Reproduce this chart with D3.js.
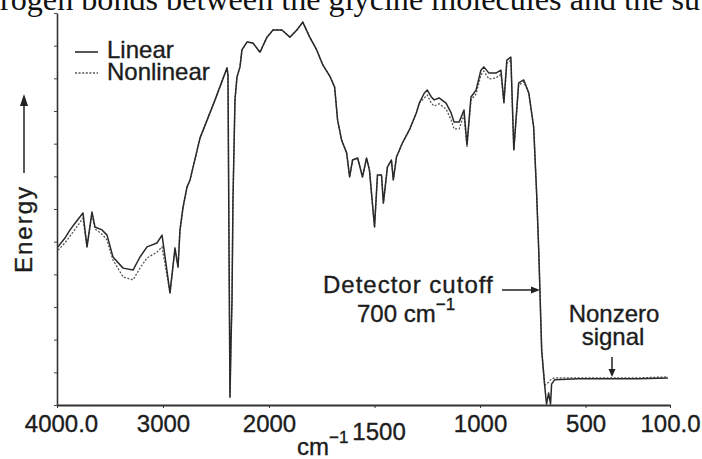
<!DOCTYPE html>
<html>
<head>
<meta charset="utf-8">
<script src="https://cdn.jsdelivr.net/npm/d3@7"></script>
<style>
body { margin: 0; background: #fff; }
svg { display: block; }
text { font-family: "Liberation Sans", Arial, sans-serif; fill: #1c1c1c; stroke: #1c1c1c; stroke-width: 0.35px; }
</style>
</head>
<body>
<div id="chart"></div>
<script>
// wavenumbers (cm-1) shared by both series
var waveNumbers = [3991, 3925, 3877, 3821, 3755, 3717, 3670, 3642, 3575, 3528, 3472, 3377, 3283, 3217, 3151, 3057, 3009,
	2934, 2887, 2858, 2840, 2811, 2774, 2745, 2651, 2509, 2396, 2387, 2377, 2368, 2358, 2349, 2340, 2321, 2302, 2274,
	2255, 2208, 2151, 2085, 2019, 1981, 1939, 1901, 1868, 1840, 1807, 1774, 1745, 1712, 1689, 1675, 1656, 1632, 1618,
	1604, 1580, 1557, 1538, 1524, 1500, 1486, 1467, 1458, 1439, 1420, 1411, 1396, 1368, 1335, 1302, 1288, 1264, 1250,
	1231, 1217, 1194, 1161, 1137, 1123, 1099, 1076, 1062, 1043, 1019, 996, 982, 958, 925, 901, 887, 873, 854, 840,
	817, 793, 769, 746, 732, 722, 708, 694, 685, 675, 666, 661, 647, 534, 383, 251, 110];

var linearEnergy = [48.4, 51.1, 53.6, 56.0, 58.8, 48.4, 59.1, 54.5, 53.6, 52.0, 45.3, 41.9, 41.3, 45.3, 48.4, 49.6, 52.0,
	34.3, 48.1, 42.2, 53.6, 60.6, 66.7, 68.9, 81.7, 93.4, 103.2, 101.0, 47.4, 2.4, 19.9, 32.1, 62.7, 93.4, 100.4, 103.5,
	108.7, 111.1, 110.8, 108.0, 112.6, 114.8, 114.8, 112.6, 114.8, 117.2, 112.6, 108.7, 104.1, 100.7, 97.3, 87.2, 81.1, 77.1, 69.8,
	75.0, 75.6, 69.8, 75.6, 71.9, 54.5, 70.4, 70.4, 61.8, 72.8, 75.0, 68.9, 75.9, 80.2, 84.2, 89.4, 92.4, 95.5, 96.4,
	94.3, 93.4, 94.0, 92.4, 89.4, 86.6, 86.6, 90.3, 79.6, 94.3, 96.4, 102.5, 103.5, 101.6, 101.6, 102.5, 92.7, 105.6, 106.5, 78.1,
	98.6, 99.5, 95.5, 85.1, 64.9, 47.4, 16.8, 6.1, 0.3, 3.7, 0.3, 6.4, 7.7, 8.0, 8.0, 8.0, 8.3];

var nonlinearEnergy = [47.4, 49.6, 51.7, 54.2, 57.2, 48.4, 58.5, 53.9, 52.3, 50.5, 44.4, 39.2, 38.3, 41.9, 45.0, 46.8, 48.4,
	34.3, 47.4, 42.2, 53.0, 60.3, 66.4, 68.9, 81.7, 93.4, 103.2, 101.0, 47.4, 2.4, 19.9, 32.1, 62.7, 93.4, 100.4, 103.5,
	108.7, 111.1, 110.8, 108.0, 112.6, 114.8, 114.8, 112.6, 114.8, 117.2, 112.6, 108.7, 104.1, 100.7, 97.3, 87.2, 81.1, 77.1, 69.8,
	75.0, 75.6, 69.8, 75.6, 71.9, 54.5, 70.4, 70.4, 61.8, 72.8, 75.0, 68.9, 75.9, 80.2, 84.2, 89.4, 92.4, 94.0, 94.9,
	92.4, 91.5, 92.2, 90.6, 87.3, 84.5, 84.5, 88.8, 79.0, 93.4, 95.2, 101.0, 102.2, 99.8, 100.1, 101.3, 92.2, 104.6, 105.6, 78.1,
	97.9, 99.0, 95.5, 85.1, 64.9, 47.4, 16.8, 6.1, 6.4, 7.0, 7.7, 8.0, 8.3, 8.3, 8.3, 8.3, 8.6];

var xTicks = [4000, 3000, 2000, 1500, 1000, 500, 100];
var xTickLabels = ["4000.0", "3000", "2000", "1500", "1000", "500", "100.0"];
var yTicks = d3.range(0, 121, 10);

var svgWidth = 702;
var svgHeight = 459;

var svg = d3.select("#chart").append("svg").attr("width", svgWidth).attr("height", svgHeight);

// cut-off line of the page text above the figure
svg.append("text").attr("x", 0).attr("y", 10).attr("textLength", 700).attr("lengthAdjust", "spacingAndGlyphs")
	.style("font-family", "'Liberation Serif', 'Times New Roman', serif").style("font-size", "31px")
	.style("fill", "#111").style("stroke", "none")
	.text("rogen bonds between the glycine molecules and the su");

// x axis is split: 4000-2000 and 2000-100 use different spacing
var xScale = d3.scaleLinear().domain([4000, 2000, 100]).range([57, 269, 670]);
var yScale = d3.scaleLinear().domain([0, 120]).range([405, 13]);

var xAxis = d3.axisBottom(xScale).tickValues(xTicks).tickFormat(function(d, i) { return xTickLabels[i]; })
	.tickSize(3).tickSizeOuter(0);
var yAxis = d3.axisLeft(yScale).tickValues(yTicks).tickFormat("").tickSize(3).tickSizeOuter(0);

var gx = svg.append("g").attr("transform", "translate(0,405)").call(xAxis);
gx.select(".domain").attr("stroke", "#333").attr("stroke-width", 2);
gx.selectAll(".tick line").attr("stroke", "#333");
gx.selectAll(".tick text").attr("y", function(d) { return d === 1500 ? 35 : 27; }).attr("dy", 0)
	.attr("dx", function(d) { return d === 4000 ? 4 : (d === 1500 ? 4 : 0); })
	.style("font-size", "24px").style("font-family", "'Liberation Sans', Arial, sans-serif")
	.style("fill", "#1c1c1c").style("stroke", "#1c1c1c");

var gy = svg.append("g").attr("transform", "translate(57,0)").call(yAxis);
gy.select(".domain").attr("stroke", "#333").attr("stroke-width", 1.6);
gy.selectAll(".tick line").attr("stroke", "#444");

var line = d3.line()
	.x(function(d, i) { return xScale(waveNumbers[i]); })
	.y(function(d) { return yScale(d); });

svg.append("path").datum(nonlinearEnergy).attr("d", line)
	.attr("fill", "none").attr("stroke", "#555").attr("stroke-width", 1.3).attr("stroke-dasharray", "2,1.6");
svg.append("path").datum(linearEnergy).attr("d", line)
	.attr("fill", "none").attr("stroke", "#2a2a2a").attr("stroke-width", 1.5).attr("stroke-linejoin", "round");

// legend
var legend = svg.append("g");
legend.append("line").attr("x1", 75).attr("x2", 98).attr("y1", 52).attr("y2", 52).attr("stroke", "#2a2a2a").attr("stroke-width", 1.6);
legend.append("line").attr("x1", 75).attr("x2", 98).attr("y1", 73).attr("y2", 73).attr("stroke", "#555")
	.attr("stroke-width", 1.4).attr("stroke-dasharray", "2,1.6");
legend.append("text").attr("x", 107).attr("y", 58).style("font-size", "24px").text("Linear");
legend.append("text").attr("x", 107).attr("y", 80).style("font-size", "24px").text("Nonlinear");

// y axis label with arrow
svg.append("text").attr("transform", "translate(32,229) rotate(-90)").attr("text-anchor", "middle")
	.style("font-size", "24px").style("letter-spacing", "2px").text("Energy");
svg.append("line").attr("x1", 24).attr("x2", 24).attr("y1", 173).attr("y2", 104).attr("stroke", "#222").attr("stroke-width", 1.5);
svg.append("path").attr("d", "M24,94 L20,106 L28,106 Z").attr("fill", "#222");

// x axis title
var xTitle = svg.append("text").attr("x", 297).attr("y", 455).style("font-size", "24px");
xTitle.append("tspan").text("cm");
xTitle.append("tspan").attr("dy", -12).style("font-size", "17px").text("\u22121");

// detector cutoff note
svg.append("text").attr("x", 323).attr("y", 293).style("font-size", "24px").style("letter-spacing", "1px").text("Detector cutoff");
var note = svg.append("text").attr("x", 357).attr("y", 322).style("font-size", "24px");
note.append("tspan").text("700 cm");
note.append("tspan").attr("dy", -12).style("font-size", "17px").text("\u22121");
svg.append("line").attr("x1", 502).attr("x2", 533).attr("y1", 290).attr("y2", 290).attr("stroke", "#222").attr("stroke-width", 1.5);
svg.append("path").attr("d", "M540,290 L531,286.5 L531,293.5 Z").attr("fill", "#222");

// nonzero signal note
svg.append("text").attr("x", 614).attr("y", 322).attr("text-anchor", "middle").style("font-size", "24px").text("Nonzero");
svg.append("text").attr("x", 613).attr("y", 345).attr("text-anchor", "middle").style("font-size", "24px").text("signal");
svg.append("line").attr("x1", 612).attr("x2", 612).attr("y1", 357).attr("y2", 371).attr("stroke", "#222").attr("stroke-width", 1.5);
svg.append("path").attr("d", "M612,377 L608.5,369 L615.5,369 Z").attr("fill", "#222");
</script>
</body>
</html>
